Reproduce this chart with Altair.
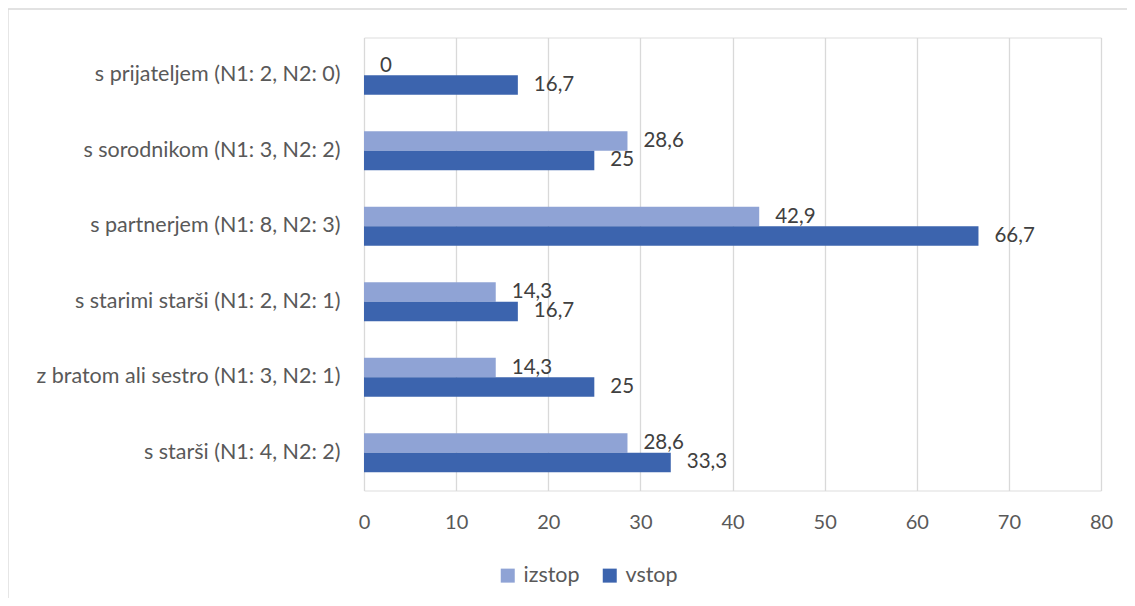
import altair as alt
import pandas as pd

categories = [
    "s prijateljem (N1: 2, N2: 0)",
    "s sorodnikom (N1: 3, N2: 2)",
    "s partnerjem (N1: 8, N2: 3)",
    "s starimi starši (N1: 2, N2: 1)",
    "z bratom ali sestro (N1: 3, N2: 1)",
    "s starši (N1: 4, N2: 2)",
]
series = ["izstop", "vstop"]
izstop = [0, 28.6, 42.9, 14.3, 14.3, 28.6]
vstop = [16.7, 25, 66.7, 16.7, 25, 33.3]
x_ticks = [0, 10, 20, 30, 40, 50, 60, 70, 80]
colors = ["#8FA3D5", "#3C64AE"]


def fmt(v):
    return str(int(v)) if float(v).is_integer() else str(v).replace(".", ",")


rows = []
for c, a, b in zip(categories, izstop, vstop):
    rows.append({"cat": c, "serie": "izstop", "val": a, "lab": fmt(a)})
    rows.append({"cat": c, "serie": "vstop", "val": b, "lab": fmt(b)})
df = pd.DataFrame(rows)

FONT = "Lato"
W, H = 737, 453

y_enc = alt.Y(
    "cat:N",
    sort=categories,
    scale=alt.Scale(paddingInner=0.484, paddingOuter=0.242),
    axis=alt.Axis(
        title=None, domain=False, ticks=False, labelPadding=24,
        labelFont=FONT, labelFontSize=21.5, labelColor="#595959",
        labelLimit=400,
    ),
)
yoff = alt.YOffset("serie:N", sort=series, scale=alt.Scale(paddingInner=0, paddingOuter=0))
x_enc = alt.X(
    "val:Q",
    scale=alt.Scale(domain=[0, 80], nice=False),
    axis=alt.Axis(
        title=None, values=x_ticks, domain=False, ticks=False,
        grid=True, gridColor="#d9d9d9", gridWidth=1.3,
        labelFlush=False, labelOverlap=False,
        labelPadding=22, labelFont=FONT, labelFontSize=20,
        labelColor="#595959",
    ),
)

base = alt.Chart(df)

bars = base.mark_bar().encode(
    x=x_enc,
    y=y_enc,
    yOffset=yoff,
    color=alt.Color(
        "serie:N",
        sort=series,
        scale=alt.Scale(domain=series, range=colors),
        legend=alt.Legend(
            title=None, orient="none", direction="horizontal",
            legendX=133, legendY=527, symbolType="square", symbolSize=196,
            symbolStrokeWidth=0, labelFont=FONT, labelFontSize=21.5,
            labelColor="#595959", labelOffset=5, columnPadding=19,
        ),
    ),
)

labels = base.mark_text(
    align="left", baseline="middle", dx=16, font=FONT, fontSize=20.5,
    color="#404040",
).encode(
    x=alt.X("val:Q"),
    y=alt.Y("cat:N", sort=categories),
    yOffset=alt.YOffset("serie:N", sort=series),
    text="lab:N",
)

frame = alt.Chart(pd.DataFrame({"k": [0]})).mark_rect(
    filled=False, stroke="#d9d9d9", strokeWidth=1.3, clip=False
).encode(
    x=alt.value(-356), x2=alt.value(W + 60),
    y=alt.value(-28.5), y2=alt.value(H + 200),
)

chart = (
    alt.layer(bars, labels, frame)
    .properties(
        width=W, height=H,
        padding={"left": 356, "top": 29.5, "right": 26, "bottom": 107},
        autosize=alt.AutoSizeParams(type="none"),
    )
    .configure_view(strokeWidth=0, stroke="transparent")
    .configure_axis(domain=False, ticks=False, gridCap="butt")
    .configure_axisX(domain=False, ticks=False)
    .configure_axisY(domain=False, ticks=False, grid=False)
    .configure(background="white")
)

chart.save("out.html", embed_options={"renderer": "svg", "actions": False})
